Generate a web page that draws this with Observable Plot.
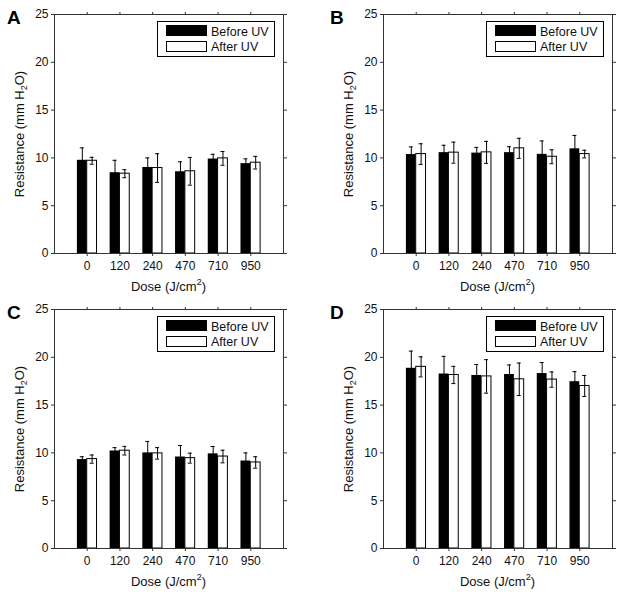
<!DOCTYPE html>
<html><head><meta charset="utf-8">
<script src="https://cdn.jsdelivr.net/npm/d3@7"></script>
<script src="https://cdn.jsdelivr.net/npm/@observablehq/plot@0.6"></script>
<style>
body{margin:0;background:#fff;font-family:"Liberation Sans",Arial,sans-serif;color:#000;}
#root{position:relative;width:621px;height:596px;overflow:hidden;background:#fff;}
.panel{position:absolute;}
.letter{position:absolute;font-weight:bold;font-size:19px;line-height:19px;}
.ylab{position:absolute;font-size:13px;line-height:15px;white-space:nowrap;color:#111;transform:translate(-50%,-50%) rotate(-90deg);}
.xlab{position:absolute;font-size:13px;line-height:15px;white-space:nowrap;color:#111;transform:translate(-50%,-50%);}
.legend{position:absolute;border:1px solid #000;background:#fff;box-sizing:border-box;width:118px;height:36px;font-size:12.5px;}
.sw{position:absolute;left:8px;width:41px;height:11px;box-sizing:border-box;border:1px solid #000;}
.lt{position:absolute;left:53px;line-height:15px;white-space:nowrap;color:#111;}
sub,sup{font-size:9px;line-height:0;}
</style>
</head><body>
<div id="root"></div>
<script>
const doses = ["0", "120", "240", "470", "710", "950"];
const yTicks = [0, 5, 10, 15, 20, 25];
const seriesNames = ["Before UV", "After UV"];

const beforeA = [9.75, 8.45, 9.0, 8.55, 9.88, 9.4];
const beforeAErr = [1.3, 1.3, 1.0, 1.05, 0.5, 0.5];
const afterA = [9.7, 8.35, 8.94, 8.6, 9.95, 9.5];
const afterAErr = [0.36, 0.42, 1.5, 1.45, 0.72, 0.66];

const beforeB = [10.35, 10.55, 10.5, 10.55, 10.37, 10.95];
const beforeBErr = [0.8, 0.77, 0.6, 0.62, 1.4, 1.4];
const afterB = [10.4, 10.55, 10.58, 11.0, 10.12, 10.4];
const afterBErr = [1.08, 1.1, 1.15, 1.05, 0.73, 0.4];

const beforeC = [9.3, 10.2, 10.0, 9.57, 9.9, 9.15];
const beforeCErr = [0.3, 0.35, 1.2, 1.2, 0.77, 0.85];
const afterC = [9.35, 10.23, 9.95, 9.45, 9.62, 9.0];
const afterCErr = [0.43, 0.45, 0.6, 0.52, 0.66, 0.6];

const beforeD = [18.85, 18.25, 18.1, 18.2, 18.3, 17.45];
const beforeDErr = [1.8, 1.85, 1.15, 1.0, 1.15, 1.05];
const afterD = [19.0, 18.15, 18.0, 17.7, 17.67, 17.0];
const afterDErr = [1.05, 0.9, 1.75, 1.7, 0.8, 1.1];

const panels = [
  {letter:"A", left:0, top:0, w:310, h:300, ml:54, mr:27, mt:14, mb:47,
   before:beforeA, beforeErr:beforeAErr, after:afterA, afterErr:afterAErr},
  {letter:"B", left:310, top:0, w:311, h:300, ml:73, mr:9, mt:14, mb:47,
   before:beforeB, beforeErr:beforeBErr, after:afterB, afterErr:afterBErr},
  {letter:"C", left:0, top:296, w:310, h:300, ml:54, mr:27, mt:13, mb:48,
   before:beforeC, beforeErr:beforeCErr, after:afterC, afterErr:afterCErr},
  {letter:"D", left:310, top:296, w:311, h:300, ml:73, mr:9, mt:13, mb:48,
   before:beforeD, beforeErr:beforeDErr, after:afterD, afterErr:afterDErr}
];

const root = document.getElementById("root");
const axisColor = "#333";

function makePanel(cfg) {
  const plotW = cfg.w - cfg.ml - cfg.mr;
  const step = plotW / 7;
  const bw = step * 0.6;
  const half = bw / 2;
  const cap = 2;
  const rows = doses.map((d, i) => ({dose: d, b: cfg.before[i], be: cfg.beforeErr[i], a: cfg.after[i], ae: cfg.afterErr[i]}));
  const capsB = rows.flatMap(r => [{dose: r.dose, v: r.b + r.be}, {dose: r.dose, v: r.b - r.be}]);
  const capsA = rows.flatMap(r => [{dose: r.dose, v: r.a + r.ae}, {dose: r.dose, v: r.a - r.ae}]);
  const chart = Plot.plot({
    width: cfg.w, height: cfg.h,
    marginLeft: cfg.ml, marginRight: cfg.mr, marginTop: cfg.mt, marginBottom: cfg.mb,
    style: {fontFamily: '"Liberation Sans", Arial, sans-serif', fontSize: "12px", color: "#111", background: "transparent", overflow: "visible"},
    x: {type: "band", domain: doses, paddingInner: 0.4, paddingOuter: 0.7, round: false, label: null},
    y: {domain: [0, 25], label: null},
    marks: [
      Plot.barY(rows, {x: "dose", y: "b", fill: "black", insetLeft: 0, insetRight: half}),
      Plot.barY(rows, {x: "dose", y: "a", fill: "white", stroke: "black", strokeWidth: 1, insetLeft: half, insetRight: 0}),
      Plot.ruleX(rows, {x: "dose", y1: d => d.b - d.be, y2: d => d.b + d.be, dx: -half / 2, stroke: "black", strokeWidth: 1}),
      Plot.ruleX(rows, {x: "dose", y1: d => d.a - d.ae, y2: d => d.a + d.ae, dx: half / 2, stroke: "black", strokeWidth: 1}),
      Plot.tickY(capsB, {x: "dose", y: "v", stroke: "black", strokeWidth: 1, insetLeft: half / 2 - cap, insetRight: bw - half / 2 - cap}),
      Plot.tickY(capsA, {x: "dose", y: "v", stroke: "black", strokeWidth: 1, insetLeft: half + half / 2 - cap, insetRight: half / 2 - cap}),
      Plot.axisY(yTicks, {anchor: "left", tickSize: 3, tickPadding: 3, stroke: axisColor, label: null, fontSize: 12}),
      Plot.axisY(yTicks, {anchor: "right", tickSize: 3, tickFormat: () => "", stroke: axisColor, label: null}),
      Plot.axisX({anchor: "bottom", tickSize: 3, tickPadding: 5, stroke: axisColor, label: null, fontSize: 12}),
      Plot.axisX({anchor: "top", tickSize: 3, tickFormat: () => "", stroke: axisColor, label: null}),
      Plot.frame({stroke: axisColor, strokeWidth: 1})
    ]
  });
  const wrap = document.createElement("div");
  wrap.className = "panel";
  wrap.style.left = cfg.left + "px";
  wrap.style.top = cfg.top + "px";
  wrap.appendChild(chart);
  root.appendChild(wrap);

  const fl = cfg.left + cfg.ml, fr = cfg.left + cfg.w - cfg.mr;
  const ft = cfg.top + cfg.mt, fb = cfg.top + cfg.h - cfg.mb;

  const letter = document.createElement("div");
  letter.className = "letter";
  letter.textContent = cfg.letter;
  letter.style.left = (cfg.left + (cfg.left === 0 ? 7 : 20)) + "px";
  letter.style.top = (ft - 6.5) + "px";
  root.appendChild(letter);

  const yl = document.createElement("div");
  yl.className = "ylab";
  yl.innerHTML = "Resistance (mm H<sub>2</sub>O)";
  yl.style.left = (fl - 35) + "px";
  yl.style.top = ((ft + fb) / 2) + "px";
  root.appendChild(yl);

  const xl = document.createElement("div");
  xl.className = "xlab";
  xl.innerHTML = "Dose (J/cm<sup>2</sup>)";
  xl.style.left = ((fl + fr) / 2) + "px";
  xl.style.top = (fb + 33) + "px";
  root.appendChild(xl);

  const lg = document.createElement("div");
  lg.className = "legend";
  lg.style.left = (fr - 8 - 118) + "px";
  lg.style.top = (ft + 7) + "px";
  lg.innerHTML =
    '<div class="sw" style="top:3px;background:#000"></div>' +
    '<div class="sw" style="top:19px;background:#fff"></div>' +
    '<div class="lt" style="top:2.5px">' + seriesNames[0] + '</div>' +
    '<div class="lt" style="top:18.2px">' + seriesNames[1] + '</div>';
  root.appendChild(lg);
}

panels.forEach(makePanel);
</script>
</body></html>
